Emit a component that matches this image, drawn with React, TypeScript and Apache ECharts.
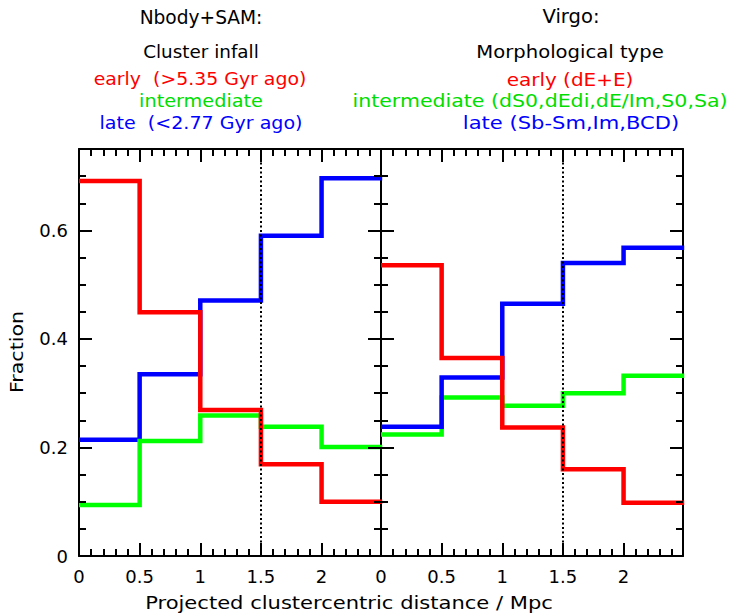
import React, { useEffect, useRef } from "react";
import * as echarts from "echarts";

// Histogram bins (projected clustercentric distance, Mpc)
const binStarts = [0, 0.5, 1, 1.5, 2];
const binEnd = 2.5;

// Nbody+SAM panel: fraction by cluster infall time
const simEarly = [0.691, 0.449, 0.269, 0.169, 0.1];
const simIntermediate = [0.094, 0.212, 0.259, 0.238, 0.201];
const simLate = [0.214, 0.335, 0.471, 0.59, 0.696];

// Virgo panel: fraction by morphological type
const virgoEarly = [0.536, 0.365, 0.237, 0.16, 0.098];
const virgoIntermediate = [0.224, 0.292, 0.277, 0.3, 0.332];
const virgoLate = [0.238, 0.329, 0.465, 0.54, 0.568];

const dividerX = 1.5;

// Axis ranges and tick positions
const xMax = 2.49;
const yMax = 0.75;
const xMajorTicks = [0, 0.5, 1, 1.5, 2];
const xMinorTicks = [0.1, 0.2, 0.3, 0.4, 0.6, 0.7, 0.8, 0.9, 1.1, 1.2, 1.3, 1.4, 1.6, 1.7, 1.8, 1.9, 2.1, 2.2, 2.3, 2.4];
const yMajorTicks = [0.2, 0.4, 0.6];
const yMinorTicks = [0.05, 0.1, 0.15, 0.25, 0.3, 0.35, 0.45, 0.5, 0.55, 0.65, 0.7];

const leftTitles = [
  { text: "Nbody+SAM:", color: "#000000" },
  { text: "Cluster infall", color: "#000000" },
  { text: "early  (>5.35 Gyr ago)", color: "#ff0000" },
  { text: "intermediate", color: "#00dd00" },
  { text: "late  (<2.77 Gyr ago)", color: "#0000ff" },
];
const rightTitles = [
  { text: "Virgo:", color: "#000000" },
  { text: "Morphological type", color: "#000000" },
  { text: "early (dE+E)", color: "#ff0000" },
  { text: "intermediate (dS0,dEdi,dE/Im,S0,Sa)", color: "#00dd00" },
  { text: "late (Sb-Sm,Im,BCD)", color: "#0000ff" },
];

const FONT = "DejaVu Sans";

function steps(vals: number[]) {
  const pts = binStarts.map((x, i) => [x, vals[i]]);
  pts.push([binEnd, vals[vals.length - 1]]);
  return pts;
}

const GRID_W = 302;
const GRID_H = 407;
const MAJOR_PX = 13;
const MINOR_PX = 7;

// tick segments expressed in axis units (pixel length converted with the axis scale)
function tickSegments() {
  const perPxX = xMax / GRID_W;
  const perPxY = yMax / GRID_H;
  const segs: any[] = [];
  const xt = (v: number, px: number) => {
    const d = px * perPxY;
    segs.push([{ coord: [v, 0] }, { coord: [v, d] }]);
    segs.push([{ coord: [v, yMax] }, { coord: [v, yMax - d] }]);
  };
  const yt = (v: number, px: number) => {
    const d = px * perPxX;
    segs.push([{ coord: [0, v] }, { coord: [d, v] }]);
    segs.push([{ coord: [xMax, v] }, { coord: [xMax - d, v] }]);
  };
  xMajorTicks.forEach((v) => xt(v, MAJOR_PX));
  xMinorTicks.forEach((v) => xt(v, MINOR_PX));
  yMajorTicks.forEach((v) => yt(v, MAJOR_PX));
  yMinorTicks.forEach((v) => yt(v, MINOR_PX));
  return segs;
}

export default function App() {
  const ref = useRef<HTMLDivElement>(null);
  useEffect(() => {
    if (!ref.current) return;
    const chart = echarts.init(ref.current, null, { renderer: "svg" });

    const grids = [
      { left: 79, top: 149, width: GRID_W, height: GRID_H },
      { left: 381, top: 149, width: GRID_W, height: GRID_H },
    ];

    const lineCol = "#000";
    const frameLine = () => ({ show: true, onZero: false, lineStyle: { color: lineCol, width: 2 } });

    const xAxes: any[] = [];
    const yAxes: any[] = [];
    grids.forEach((_, g) => {
      const xBase = () => ({ gridIndex: g, type: "value", min: 0, max: xMax, splitLine: { show: false }, axisTick: { show: false } });
      xAxes.push({
        ...xBase(),
        position: "bottom",
        interval: 0.5,
        axisLine: frameLine(),
        axisLabel: {
          show: true,
          color: "#000",
          fontSize: 18,
          fontFamily: FONT,
          margin: 11,
          showMaxLabel: false,
          formatter: (v: number) => String(v),
        },
      });
      xAxes.push({ ...xBase(), position: "top", interval: 0.5, axisLine: frameLine(), axisLabel: { show: false } });

      const yBase = () => ({ gridIndex: g, type: "value", min: 0, max: yMax, splitLine: { show: false }, axisTick: { show: false } });
      yAxes.push({
        ...yBase(),
        position: "left",
        interval: 0.2,
        axisLine: frameLine(),
        axisLabel: {
          show: g === 0,
          color: "#000",
          fontSize: 18,
          fontFamily: FONT,
          margin: 11,
          showMaxLabel: false,
          formatter: (v: number) => (v === 0 ? "0" : v.toFixed(1)),
        },
      });
      yAxes.push({ ...yBase(), position: "right", interval: 0.2, axisLine: frameLine(), axisLabel: { show: false } });
    });

    const mkSeries = (g: number, vals: number[], color: string, marker: "divider" | "ticks" | "none") => {
      const s: any = {
        type: "line",
        xAxisIndex: g * 2,
        yAxisIndex: g * 2,
        step: "end",
        showSymbol: false,
        symbol: "none",
        clip: true,
        data: steps(vals),
        lineStyle: { color, width: 4.5, cap: "butt", join: "miter" },
        itemStyle: { color },
        z: 3,
      };
      if (marker === "divider") {
        s.markLine = {
          silent: true,
          symbol: ["none", "none"],
          label: { show: false },
          lineStyle: { color: "#000", width: 2, type: [2, 2.5] },
          data: [{ xAxis: dividerX }],
        };
      } else if (marker === "ticks") {
        s.markLine = {
          silent: true,
          symbol: ["none", "none"],
          label: { show: false },
          lineStyle: { color: "#000", width: 2, type: "solid", opacity: 1 },
          data: tickSegments(),
        };
      }
      return s;
    };

    const series = [
      mkSeries(0, simLate, "#0000ff", "ticks"),
      mkSeries(0, simIntermediate, "#00ff00", "none"),
      mkSeries(0, simEarly, "#ff0000", "divider"),
      mkSeries(1, virgoIntermediate, "#00ff00", "ticks"),
      mkSeries(1, virgoLate, "#0000ff", "none"),
      mkSeries(1, virgoEarly, "#ff0000", "divider"),
    ];

    const titleYs = [17, 52, 79, 101, 123];
    const titleSizes = [19, 18, 18, 18, 18];
    const leftX = [201, 201, 200, 201, 201];
    const leftScale = [0.98, 1.02, 1.05, 1.07, 1.06];
    const rightX = [571, 570, 570, 540, 571];
    const rightScale = [1.03, 1.09, 1.11, 1.14, 1.17];

    const mkText = (text: string, color: string, x: number, y: number, size: number, sx: number) => ({
      type: "text",
      x,
      y,
      scaleX: sx,
      style: {
        text,
        fill: color,
        font: `${size}px "${FONT}"`,
        textAlign: "center",
        textVerticalAlign: "middle",
      },
    });

    const graphic: any[] = [];
    leftTitles.forEach((t, i) => graphic.push(mkText(t.text, t.color, leftX[i], titleYs[i], titleSizes[i], leftScale[i])));
    rightTitles.forEach((t, i) => graphic.push(mkText(t.text, t.color, rightX[i], titleYs[i], titleSizes[i], rightScale[i])));
    graphic.push(mkText("Projected clustercentric distance / Mpc", "#000", 349, 603, 18, 1.17));
    graphic.push({
      type: "text",
      x: 17,
      y: 352,
      rotation: Math.PI / 2,
      scaleX: 1.14,
      style: {
        text: "Fraction",
        fill: "#000",
        font: `18px "${FONT}"`,
        textAlign: "center",
        textVerticalAlign: "middle",
      },
    });

    chart.setOption({
      animation: false,
      backgroundColor: "#ffffff",
      grid: grids,
      xAxis: xAxes,
      yAxis: yAxes,
      series,
      graphic,
    });

    return () => chart.dispose();
  }, []);

  return (
    <div
      ref={ref}
      style={{ position: "fixed", left: 0, top: 0, width: 732, height: 614 }}
    />
  );
}
